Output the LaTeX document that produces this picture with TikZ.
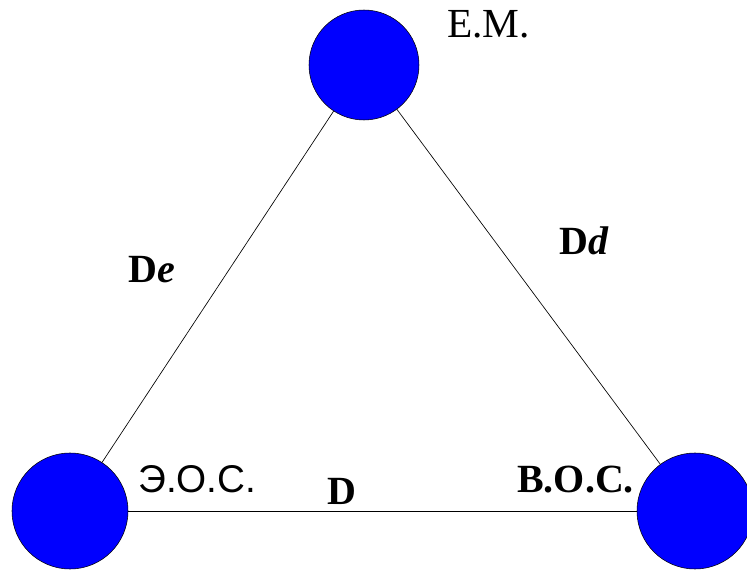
\documentclass[tikz,border=0pt]{standalone}
\usepackage{fontspec}
\setmainfont{Liberation Serif}
\newfontfamily\arialfont{Liberation Sans}
\usepackage{tikz}

\begin{document}
\begin{tikzpicture}[x=0.75pt,y=-0.75pt,
          ball/.style={circle,draw=black,line width=0.4pt,fill=blue,inner sep=0pt},
          lbl/.style={anchor=base west,inner sep=0pt,font=\fontsize{30}{36}\selectfont},
          link/.style={draw=black,line width=0.5pt}]
          \useasboundingbox (0,0) rectangle (747,570);
          \node[ball,minimum size=110*0.75pt] (EM) at (364,65) {};
          \node[ball,minimum size=116*0.75pt] (EOS) at (70,511) {};
          \node[ball,minimum size=116*0.75pt] (VOS) at (695,511) {};
          \draw[link] (EM) -- (EOS);
          \draw[link] (EM) -- (VOS);
          \draw[link] (EOS) -- (VOS);
          \node[lbl,font=\fontsize{31}{37}\rmfamily] (tEM) at (447,38) {Е.М.};
          \node[lbl,font=\fontsize{29}{35}\arialfont] (tEOS) at (138,493) {Э.О.С.};
          \node[lbl,font=\fontsize{30}{36}\selectfont\bfseries] (tVOS) at (517,493) {В.О.С.};
          \node[lbl,font=\fontsize{30}{36}\selectfont\bfseries] (tDe) at (128,283) {D\textit{e}};
          \node[lbl,font=\fontsize{30}{36}\selectfont\bfseries] (tDd) at (559,255) {D\textit{d}};
          \node[lbl,font=\fontsize{30}{36}\selectfont\bfseries] (tD) at (327,505) {D};
        \end{tikzpicture}
\end{document}
